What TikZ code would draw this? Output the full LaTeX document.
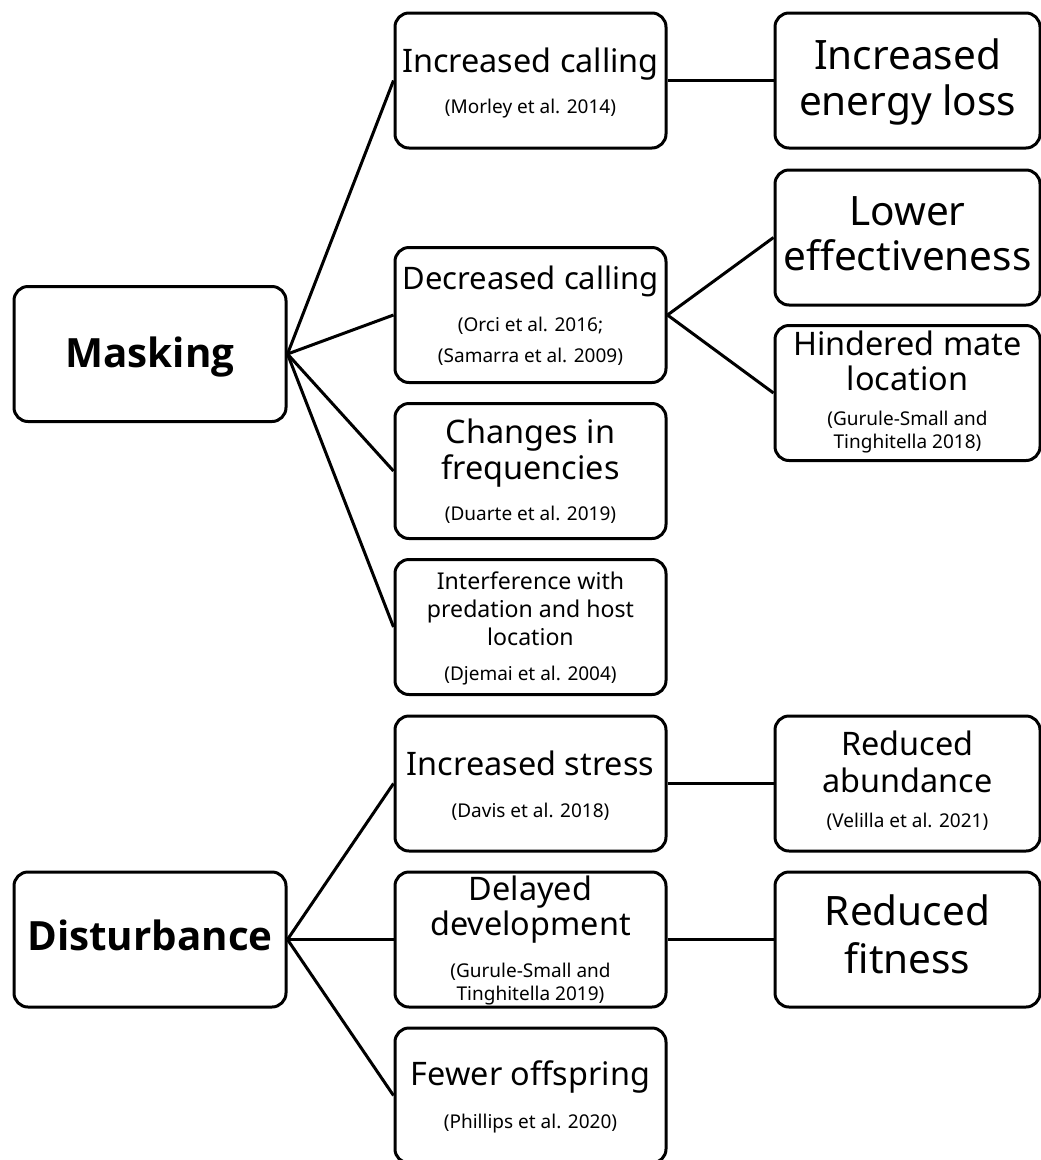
\documentclass[tikz,border=0pt]{standalone}
\usepackage{fontspec}
\setmainfont{Noto Sans}
\newfontfamily\heavyfam{Open Sans}[UprightFont=* Bold]
\begin{document}
\begin{tikzpicture}[x=1pt,y=-1pt,
  box/.style={draw, line width=3pt, rounded corners=14pt, inner sep=0pt},
  link/.style={line width=3pt},
  tx/.style={anchor=base, inner sep=0pt},
  med/.style={tx, font=\fontsize{32.4}{36}\selectfont},
  medn/.style={tx, font=\fontsize{31}{36}\selectfont},
  big/.style={tx, font=\fontsize{40.5}{46}\selectfont},
  cite/.style={tx, font=\fontsize{19}{23}\selectfont},
  sml/.style={tx, font=\fontsize{23.1}{28}\selectfont},
  bld/.style={tx, font=\fontsize{40.3}{48}\selectfont\heavyfam}]
\useasboundingbox (0,0) rectangle (1041,1160);
% column centres
\def\xa{150}\def\xb{530.5}\def\xc{907.5}
% boxes
\node[box, minimum width=272pt, minimum height=135pt] (mask) at (\xa,354) {};
\node[box, minimum width=272pt, minimum height=135pt] (dist) at (\xa,939.5) {};
\node[box, minimum width=271pt, minimum height=135pt] (inc) at (\xb,80.5) {};
\node[box, minimum width=271pt, minimum height=135pt] (dec) at (\xb,315) {};
\node[box, minimum width=271pt, minimum height=135pt] (chg) at (\xb,471) {};
\node[box, minimum width=271pt, minimum height=135pt] (intf) at (\xb,627) {};
\node[box, minimum width=271pt, minimum height=135pt] (str) at (\xb,783.5) {};
\node[box, minimum width=271pt, minimum height=135pt] (del) at (\xb,939.5) {};
\node[box, minimum width=271pt, minimum height=135pt] (few) at (\xb,1095.5) {};
\node[box, minimum width=265pt, minimum height=135pt] (ene) at (\xc,80.5) {};
\node[box, minimum width=265pt, minimum height=135pt] (low) at (\xc,237.5) {};
\node[box, minimum width=265pt, minimum height=135pt] (hin) at (\xc,393) {};
\node[box, minimum width=265pt, minimum height=135pt] (abu) at (\xc,783.5) {};
\node[box, minimum width=265pt, minimum height=135pt] (fit) at (\xc,939.5) {};
% connectors
\draw[link] (mask.east) -- (inc.west);
\draw[link] (mask.east) -- (dec.west);
\draw[link] (mask.east) -- (chg.west);
\draw[link] (mask.east) -- (intf.west);
\draw[link] (inc.east) -- (ene.west);
\draw[link] (dec.east) -- (low.west);
\draw[link] (dec.east) -- (hin.west);
\draw[link] (dist.east) -- (str.west);
\draw[link] (dist.east) -- (del.west);
\draw[link] (dist.east) -- (few.west);
\draw[link] (str.east) -- (abu.west);
\draw[link] (del.east) -- (fit.west);
% texts
\node[bld] (tmask) at (\xa,367) {Masking};
\node[bld] (tdist) at (\xa,950) {Disturbance};
\node[med] (tinc) at (\xb,72) {Increased calling};
\node[cite] (cinc) at (\xb,113) {(Morley et al. 2014)};
\node[medn] (tdec) at (\xb,289) {Decreased calling};
\node[cite] (cdec1) at (\xb,331) {(Orci et al. 2016;};
\node[cite] (cdec2) at (\xb,362) {(Samarra et al. 2009)};
\node[med] (tchg1) at (\xb,443) {Changes in};
\node[med] (tchg2) at (\xb,479) {frequencies};
\node[cite] (cchg) at (\xb,520) {(Duarte et al. 2019)};
\node[sml] (tint1) at (\xb,589) {Interference with};
\node[sml] (tint2) at (\xb,617) {predation and host};
\node[sml] (tint3) at (\xb,645) {location};
\node[cite] (cint) at (\xb,680) {(Djemai et al. 2004)};
\node[med] (tstr) at (\xb,775) {Increased stress};
\node[cite] (cstr) at (\xb,817) {(Davis et al. 2018)};
\node[med] (tdel1) at (\xb,900) {Delayed};
\node[med] (tdel2) at (\xb,935) {development};
\node[cite] (cdel1) at (\xb,977) {(Gurule-Small and};
\node[cite] (cdel2) at (\xb,1000) {Tinghitella 2019)};
\node[med] (tfew) at (\xb,1085) {Fewer offspring};
\node[cite] (cfew) at (\xb,1128) {(Phillips et al. 2020)};
\node[big] (tene1) at (\xc,69) {Increased};
\node[big] (tene2) at (\xc,115) {energy loss};
\node[big] (tlow1) at (\xc,225) {Lower};
\node[big] (tlow2) at (\xc,270) {effectiveness};
\node[med] (thin1) at (\xc,355) {Hindered mate};
\node[med] (thin2) at (\xc,390) {location};
\node[cite] (chin1) at (\xc,425) {(Gurule-Small and};
\node[cite] (chin2) at (\xc,448) {Tinghitella 2018)};
\node[med] (tabu1) at (\xc,755) {Reduced};
\node[med] (tabu2) at (\xc,792) {abundance};
\node[cite] (cabu) at (\xc,827) {(Velilla et al. 2021)};
\node[big] (tfit1) at (\xc,925) {Reduced};
\node[big] (tfit2) at (\xc,973) {fitness};
\end{tikzpicture}
\end{document}
